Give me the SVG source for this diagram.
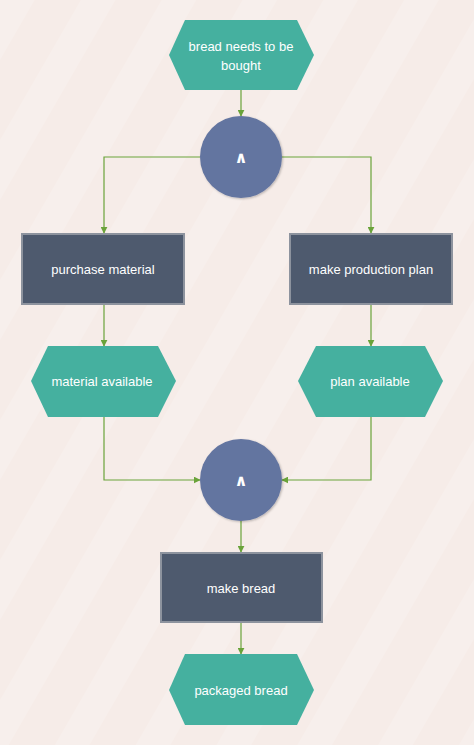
<svg xmlns="http://www.w3.org/2000/svg" width="474" height="745" viewBox="0 0 474 745">
<defs>
<pattern id="stripes" width="70" height="70" patternUnits="userSpaceOnUse" patternTransform="rotate(30)">
<rect x="0" y="0" width="30" height="70" fill="#ffffff" fill-opacity="0.16"/>
</pattern>
<marker id="arr" viewBox="0 0 10 10" refX="9" refY="5" markerWidth="7" markerHeight="7" markerUnits="userSpaceOnUse" orient="auto">
<path d="M0,0 L10,5 L0,10 z" fill="#6aa33a"/>
</marker>
<filter id="sh" x="-20%" y="-20%" width="140%" height="140%">
<feDropShadow dx="1" dy="1" stdDeviation="1.2" flood-color="#000" flood-opacity="0.25"/>
</filter>
</defs>
<style>
.ev{fill:#45b09f;}
.fn{fill:#4e5a6e;stroke:#8d939e;stroke-width:2;}
.gate{fill:#6475a0;}
.t{font-family:"Comic Sans MS","Liberation Sans",sans-serif;font-size:13px;fill:#ffffff;text-anchor:middle;dominant-baseline:central;}
.g{font-family:"DejaVu Sans",sans-serif;font-size:16px;font-weight:bold;fill:#ffffff;text-anchor:middle;dominant-baseline:central;}
.c{fill:none;stroke:#6aa33a;stroke-width:1.2;marker-end:url(#arr);}
</style>
<rect width="474" height="745" fill="#f6ece8"/>
<rect width="474" height="745" fill="url(#stripes)"/>
<g id="connectors">
<path class="c" d="M241,90 L241,116"/>
<path class="c" d="M200,157 L104,157 L104,233"/>
<path class="c" d="M282,157 L371,157 L371,233"/>
<path class="c" d="M104,304 L104,346"/>
<path class="c" d="M371,304 L371,346"/>
<path class="c" d="M104,417 L104,480 L200,480"/>
<path class="c" d="M371,417 L371,480 L282,480"/>
<path class="c" d="M241,521 L241,552"/>
<path class="c" d="M241,622 L241,654"/>
</g>
<g id="n-bread-needs">
<polygon class="ev" points="185,20 297,20 314,55 297,90 185,90 169,55"/>
<text class="t" x="241" y="46">bread needs to be</text>
<text class="t" x="241" y="65">bought</text>
</g>
<g id="n-and1">
<circle class="gate" cx="241" cy="157" r="41" filter="url(#sh)"/>
<text class="g" x="241" y="157">∧</text>
</g>
<g id="n-purchase">
<rect class="fn" x="22" y="234" width="162" height="70"/>
<text class="t" x="103" y="269">purchase material</text>
</g>
<g id="n-plan">
<rect class="fn" x="290" y="234" width="162" height="70"/>
<text class="t" x="371" y="269">make production plan</text>
</g>
<g id="n-material">
<polygon class="ev" points="48,346 158,346 176,381 158,417 48,417 31,381"/>
<text class="t" x="102" y="381">material available</text>
</g>
<g id="n-planav">
<polygon class="ev" points="316,346 425,346 443,381 425,417 316,417 298,381"/>
<text class="t" x="370" y="381">plan available</text>
</g>
<g id="n-and2">
<circle class="gate" cx="241" cy="480" r="41" filter="url(#sh)"/>
<text class="g" x="241" y="480">∧</text>
</g>
<g id="n-make-bread">
<rect class="fn" x="161" y="553" width="161" height="69"/>
<text class="t" x="241" y="588">make bread</text>
</g>
<g id="n-packaged">
<polygon class="ev" points="185,654 297,654 314,690 297,725 185,725 169,690"/>
<text class="t" x="241" y="690">packaged bread</text>
</g>
</svg>
